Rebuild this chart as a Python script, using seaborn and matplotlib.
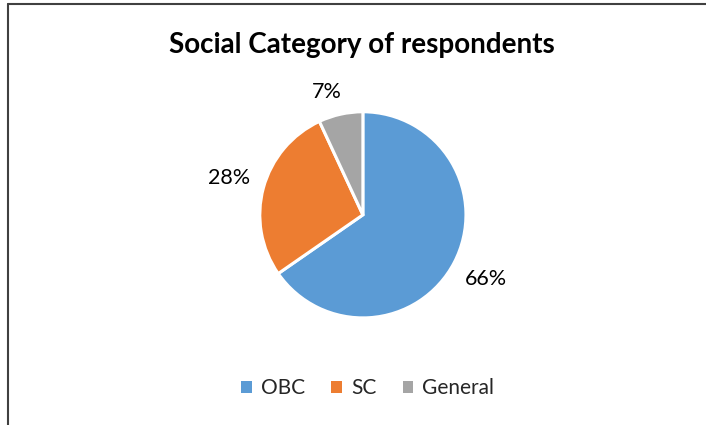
import numpy as np
import seaborn as sns
import matplotlib.pyplot as plt
from matplotlib.patches import Patch
from matplotlib.lines import Line2D

# data
categories = ['OBC', 'SC', 'General']
shares = [66, 28, 7]
colors = ['#5B9BD5', '#ED7D31', '#A5A5A5']
label_dist = [1.35, 1.35, 1.24]

sns.set_theme(style='white')
plt.rcParams['font.family'] = ['Lato', 'DejaVu Sans']

fig = plt.figure(figsize=[7.06, 4.25], dpi=100)
ax = fig.add_axes([0.368, 0.252, 0.292, 0.485])

wedges, _ = ax.pie(shares, colors=colors, startangle=90, counterclock=False,
                   wedgeprops=dict(edgecolor='white', linewidth=2.2))
ax.set_xlim(-1, 1)
ax.set_ylim(-1, 1)

# percentage labels outside the slices
for w, val, d in zip(wedges, shares, label_dist):
    ang = np.deg2rad((w.theta1 + w.theta2) / 2 + (4 if val < 10 else 0))
    ax.text(d * np.cos(ang), d * np.sin(ang), '%d%%' % val,
            ha='center', va='center', fontsize=15.5, color='#000000')

fig.text(0.513, 0.895, 'Social Category of respondents', ha='center', va='center',
         fontsize=20, fontweight='bold', color='#000000')

handles = [Patch(facecolor=c, edgecolor='none') for c in colors]
fig.legend(handles, categories, loc='center', bbox_to_anchor=(0.521, 0.087),
           ncol=3, frameon=False, fontsize=15, handlelength=0.5, handleheight=0.5,
           handletextpad=0.45, columnspacing=1.25)

# chart border (left and top only visible)
fig.add_artist(Line2D([0.012, 0.012], [0, 0.99], color='#404040', linewidth=1.5,
                      transform=fig.transFigure))
fig.add_artist(Line2D([0.012, 1.0], [0.99, 0.99], color='#404040', linewidth=1.5,
                      transform=fig.transFigure))

plt.savefig('out.png', dpi=100)
